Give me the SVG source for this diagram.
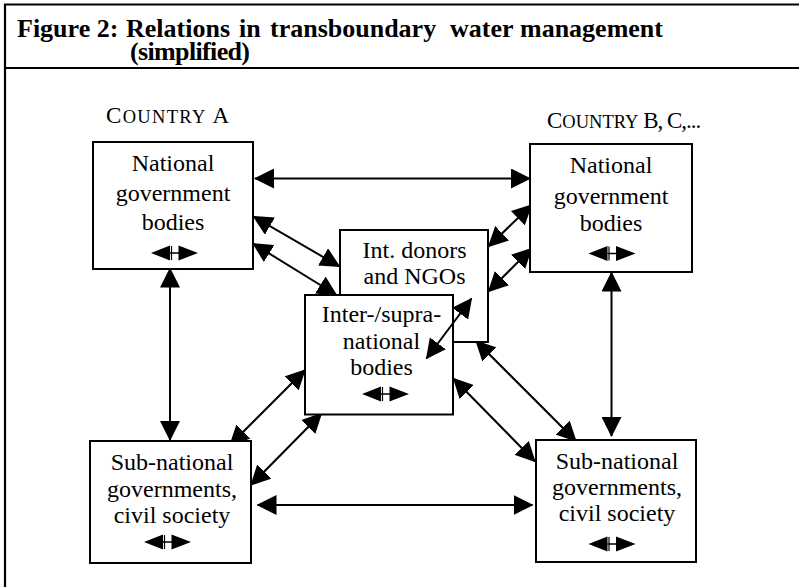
<svg xmlns="http://www.w3.org/2000/svg" width="799" height="587" viewBox="0 0 799 587">
<style>
.frame{stroke:#000;stroke-width:2.2;fill:none}
.box{fill:#fff;stroke:#000;stroke-width:2}
.t{font-family:"Liberation Serif","Times New Roman",serif;font-size:24px;fill:#000;text-anchor:middle}
.title{font-family:"Liberation Serif","Times New Roman",serif;font-size:26px;font-weight:bold;fill:#000}
.cty{font-family:"Liberation Serif","Times New Roman",serif;font-size:23px;fill:#000}
.sc{font-size:18.5px}
.conn line{stroke:#000;stroke-width:2;marker-start:url(#ah);marker-end:url(#ah)}
</style>
<defs>
<marker id="ah" viewBox="0 0 20 20" markerWidth="20" markerHeight="20" markerUnits="userSpaceOnUse" refX="19" refY="10" orient="auto-start-reverse">
<path d="M0,0 L20,10 L0,20 z" fill="#000"/>
</marker>
<g id="dbl">
<path d="M-23.5,0 L-4.5,-7.5 L-4.5,7.5 z M23.5,0 L4,-7.5 L4,7.5 z" fill="#000"/>
<line x1="-4.5" y1="0" x2="4.5" y2="0" stroke="#000" stroke-width="1.5"/>
<line x1="-3" y1="-7" x2="-3" y2="7" stroke="#000" stroke-width="1.2"/>
</g>
</defs>
<rect width="799" height="587" fill="#fff"/>
<g id="frame">
<line class="frame" x1="4" y1="4.5" x2="799" y2="4.5"/>
<line class="frame" x1="4" y1="68" x2="799" y2="68"/>
<line class="frame" x1="5" y1="4" x2="5" y2="587"/>
</g>
<g id="title">
<text class="title" y="36.5"><tspan x="17">Figure 2:</tspan><tspan x="126">Relations</tspan><tspan x="239">in</tspan><tspan x="270">transboundary</tspan><tspan x="450">water</tspan><tspan x="520">management</tspan></text>
<text class="title" x="130" y="60" textLength="120">(simplified)</text>
</g>
<g id="country-a"><text class="cty" x="106" y="123" textLength="123">C<tspan class="sc">OUNTRY</tspan> A</text></g>
<g id="country-b"><text class="cty" x="547" y="128" font-size="22">C<tspan class="sc" font-size="18">OUNTRY</tspan><tspan letter-spacing="-1"> B, C,...</tspan></text></g>

<g id="connectors" class="conn">
<line x1="255" y1="178.5" x2="530" y2="178.5"/>
<line x1="253.5" y1="216.5" x2="339.5" y2="266.5"/>
<line x1="253" y1="243.5" x2="336.5" y2="295"/>
<line x1="531.5" y1="205" x2="488.5" y2="246.5"/>
<line x1="531.5" y1="248.5" x2="488.5" y2="291.5"/>
<line x1="305" y1="370" x2="230" y2="445"/>
<line x1="321.5" y1="413.5" x2="251" y2="485"/>
<line x1="476" y1="341" x2="576" y2="441"/>
<line x1="453.5" y1="378.5" x2="535" y2="461.5"/>
<line x1="170" y1="268.5" x2="170" y2="440"/>
<line x1="611.5" y1="272.5" x2="611.5" y2="436"/>
<line x1="257.5" y1="505" x2="532.5" y2="505"/>
</g>

<g id="ngo">
<rect class="box" x="340" y="230" width="148" height="112"/>
<text class="t" x="414.5" y="258">Int. donors</text>
<text class="t" x="414.5" y="284">and NGOs</text>
</g>
<g id="inter">
<rect class="box" x="305" y="295" width="148" height="119.5"/>
<text class="t" x="381.5" y="322">Inter-/supra-</text>
<text class="t" x="381.5" y="349">national</text>
<text class="t" x="381.5" y="375">bodies</text>
<use href="#dbl" x="385.5" y="394"/>
</g>
<g id="connector-ngo-inter" class="conn">
<line x1="471.5" y1="298.5" x2="426.5" y2="358.5"/>
</g>

<g id="nat-a">
<rect class="box" x="93" y="142" width="160" height="127"/>
<text class="t" x="173" y="171">National</text>
<text class="t" x="173" y="201">government</text>
<text class="t" x="173" y="230">bodies</text>
<use href="#dbl" x="174.5" y="253"/>
</g>
<g id="nat-b">
<rect class="box" x="530" y="144" width="162" height="128"/>
<text class="t" x="611" y="173">National</text>
<text class="t" x="611" y="204">government</text>
<text class="t" x="611" y="231">bodies</text>
<use href="#dbl" x="612" y="253.5"/>
</g>
<g id="sub-a">
<rect class="box" x="90" y="441" width="161" height="122"/>
<text class="t" x="172" y="470">Sub-national</text>
<text class="t" x="172" y="497">governments,</text>
<text class="t" x="172" y="523">civil society</text>
<use href="#dbl" x="167.5" y="542"/>
</g>
<g id="sub-b">
<rect class="box" x="536" y="440" width="160" height="122"/>
<text class="t" x="617" y="469">Sub-national</text>
<text class="t" x="617" y="495">governments,</text>
<text class="t" x="617" y="521">civil society</text>
<use href="#dbl" x="612" y="544"/>
</g>
</svg>
